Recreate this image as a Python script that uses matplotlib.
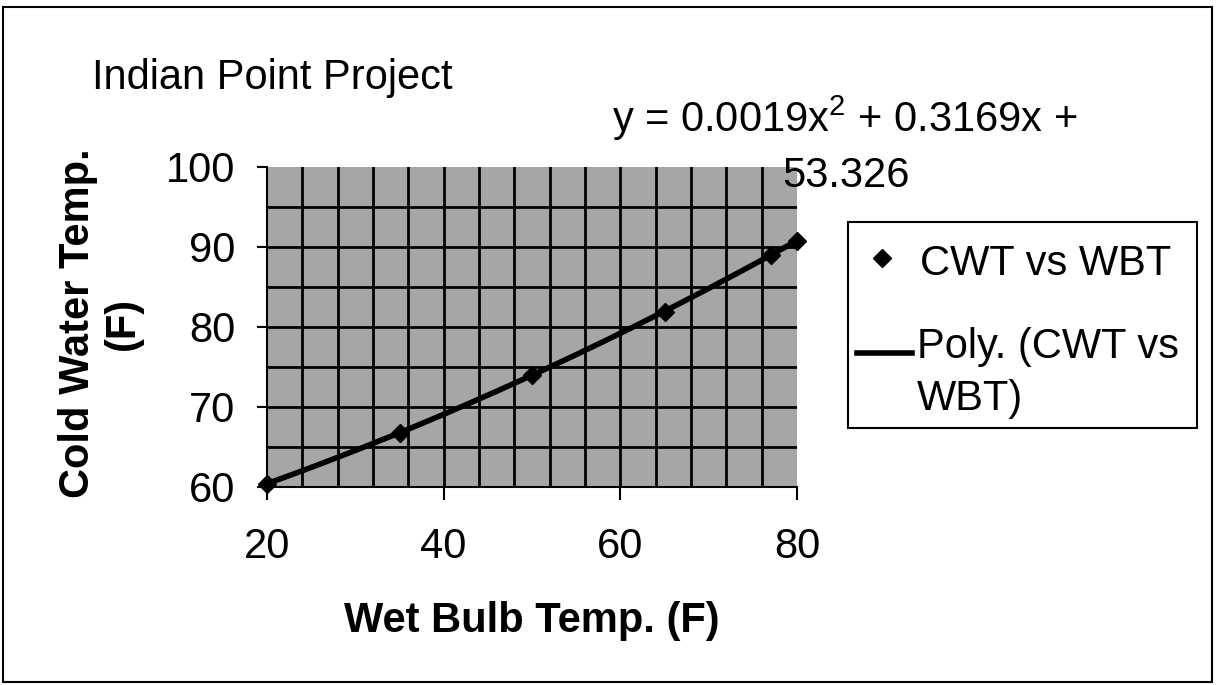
'''
Indian Point Project: cold water temp vs wet bulb temp, with quadratic trendline
'''

import numpy as np
import matplotlib.pyplot as plt
from matplotlib.lines import Line2D
from matplotlib.patches import Rectangle

plt.rcParams['font.family'] = ['Liberation Sans', 'DejaVu Sans']

# --- data ---
wbt = [20, 35, 50, 65, 77, 80]            # wet bulb temp (F)
cwt = [60.4, 66.8, 74.0, 81.9, 89.0, 90.8]  # cold water temp (F)

x_ticks = [20, 40, 60, 80]
y_ticks = [60, 70, 80, 90, 100]
eq_line1 = r'y = 0.0019x$^{\mathregular{2}}$ + 0.3169x +'
eq_line2 = '53.326'

W, H = 1219, 685
fig = plt.figure(figsize=(W / 100, H / 100), dpi=100)


def fx(px):
    return px / W


def fy(py):
    return 1 - py / H


# plot area in pixels: left 267, right 797, top 167, bottom 487
ax = fig.add_axes([fx(267), fy(487), fx(797) - fx(267), fy(167) - fy(487)])
ax.set_facecolor('#a6a6a6')
ax.set_xlim(20, 80)
ax.set_ylim(60, 100)

# gridlines: every 4 on x, every 5 on y (inside the plot only)
for gx in np.arange(24, 80, 4):
    ax.axvline(gx, color='black', lw=2, zorder=1)
for gy in np.arange(65, 100, 5):
    ax.axhline(gy, color='black', lw=2, zorder=1)

# quadratic trendline, like Excel's Poly. trendline
coef = np.polyfit(wbt, cwt, 2)
xs = np.linspace(20, 80, 200)
ax.plot(xs, np.polyval(coef, xs), color='black', lw=4, zorder=3,
        solid_capstyle='round', clip_on=False)
ax.plot(wbt, cwt, linestyle='none', marker='D', markersize=9,
        color='black', zorder=4, clip_on=False)

ax.set_xticks(x_ticks)
ax.set_yticks(y_ticks)
ax.tick_params(axis='x', labelsize=30, length=9, width=1.5, pad=20)
ax.tick_params(axis='y', labelsize=30, length=7, width=1.5, pad=16)
for s in ['top', 'right']:
    ax.spines[s].set_visible(False)
for s in ['left', 'bottom']:
    ax.spines[s].set_linewidth(1.5)

# axis titles
fig.text(fx(532), fy(632), 'Wet Bulb Temp. (F)', fontsize=30, fontweight='bold',
         ha='center', va='baseline')
fig.text(fx(78), fy(323), 'Cold Water Temp.', fontsize=30, fontweight='bold',
         rotation=90, ha='center', va='center')
fig.text(fx(123), fy(323), '(F)', fontsize=30, fontweight='bold',
         rotation=90, ha='center', va='center')

# chart title and trendline equation
fig.text(fx(92), fy(89), 'Indian Point Project', fontsize=30, ha='left', va='baseline')
fig.text(fx(612), fy(132), eq_line1, fontsize=30, ha='left', va='baseline')
fig.text(fx(782), fy(187), eq_line2, fontsize=30, ha='left', va='baseline')

# legend box, drawn by hand
fig.add_artist(Rectangle((fx(848), fy(428)), fx(1197) - fx(848), fy(222) - fy(428),
                         transform=fig.transFigure, fill=False, edgecolor='black', lw=1.5))
fig.add_artist(Line2D([fx(882)], [fy(258)], transform=fig.transFigure,
                      marker='D', markersize=9, color='black', linestyle='none'))
fig.text(fx(920), fy(275), 'CWT vs WBT', fontsize=30, ha='left', va='baseline')
fig.add_artist(Line2D([fx(857), fx(912)], [fy(353), fy(353)], transform=fig.transFigure,
                      color='black', lw=4))
fig.text(fx(917), fy(358), 'Poly. (CWT vs', fontsize=30, ha='left', va='baseline')
fig.text(fx(917), fy(410), 'WBT)', fontsize=30, ha='left', va='baseline')

# outer chart border
fig.add_artist(Rectangle((fx(3), fy(682)), fx(1212) - fx(3), fy(7) - fy(682),
                         transform=fig.transFigure, fill=False, edgecolor='black', lw=1.5))

plt.savefig('out.png', dpi=100)
